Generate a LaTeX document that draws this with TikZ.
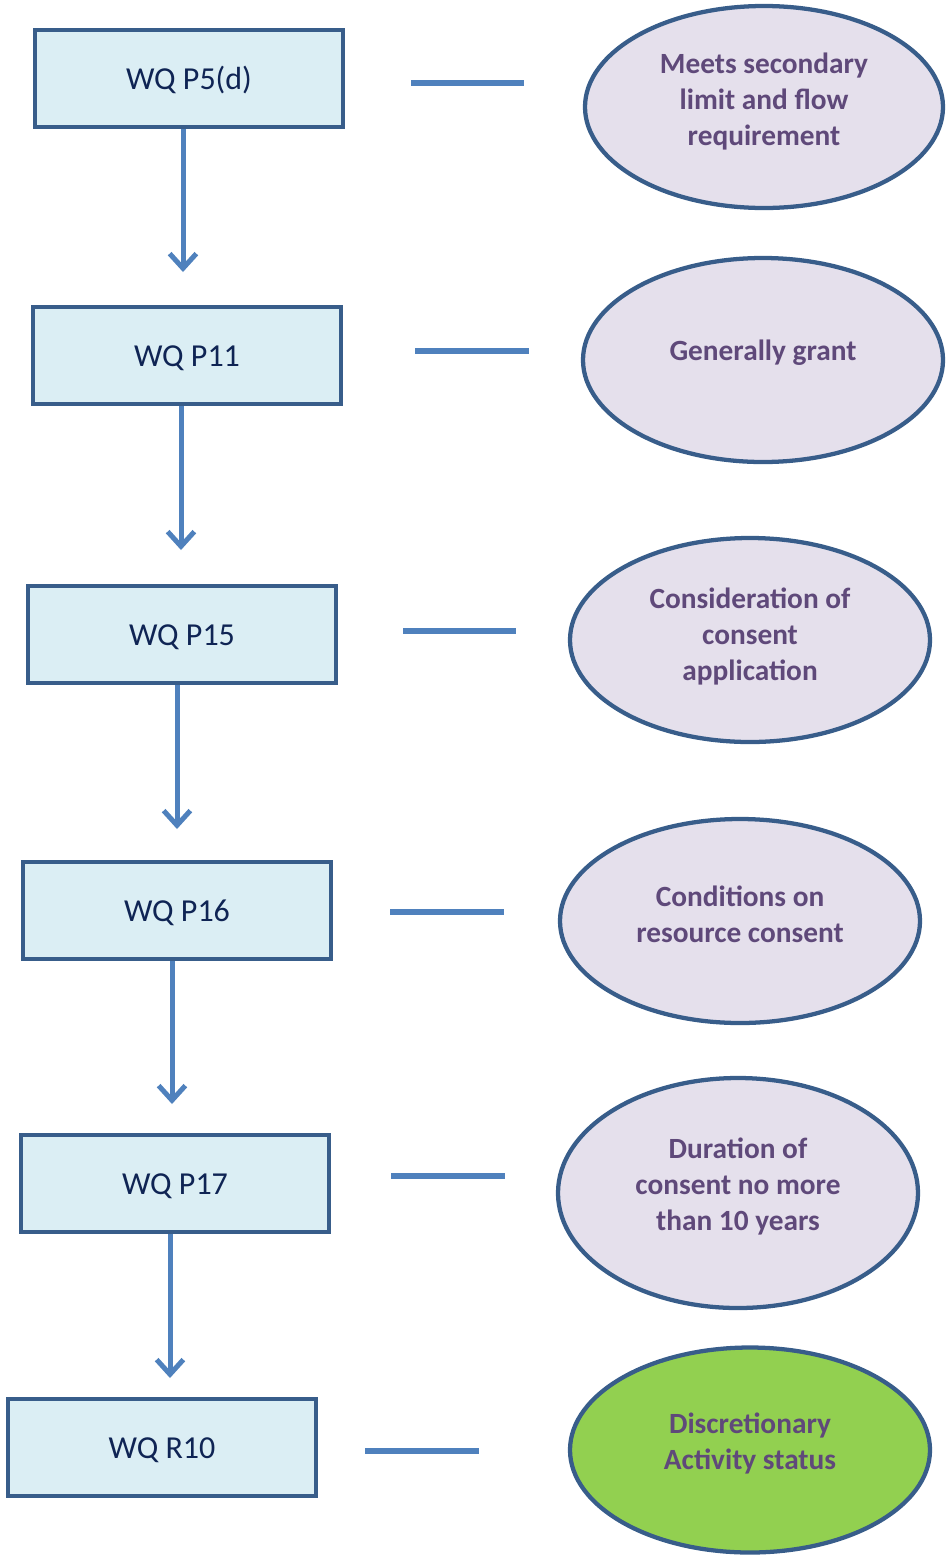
\documentclass[tikz,border=0pt]{standalone}
\usepackage{fontspec}
\setmainfont{Carlito}
\usetikzlibrary{arrows.meta,shapes.geometric}
\definecolor{boxfill}{HTML}{DBEEF4}
\definecolor{boxline}{HTML}{385D8A}
\definecolor{boxtext}{HTML}{0F2454}
\definecolor{flow}{HTML}{4F81BD}
\definecolor{ovalfill}{HTML}{E5E0EC}
\definecolor{ovaltext}{HTML}{5F497A}
\definecolor{ovalgreen}{HTML}{92D050}
\begin{document}
\begin{tikzpicture}[x=0.75pt,y=-0.75pt,
  policy/.style={draw=boxline,line width=3.2pt,fill=boxfill,rectangle,
    minimum width=231pt,minimum height=72.75pt,inner sep=0pt,
    text height=19pt,text depth=2pt,
    text=boxtext,font=\fontsize{24}{28}\selectfont},
  oval/.style={draw=boxline,line width=3.2pt,fill=ovalfill,ellipse,inner sep=0pt},
  ovaltxt/.style={align=center,text=ovaltext,inner sep=0pt,
    font=\fontsize{22}{27}\selectfont\bfseries},
  arr/.style={draw=flow,line width=3.75pt,
    -{Straight Barb[length=11pt,width=20pt,line width=3.75pt]}},
  linkbar/.style={draw=flow,line width=4.5pt}]
\useasboundingbox (0,0) rectangle (947,1557);

% policy boxes
\node[policy] (b1) at (189,78.5) {WQ P5(d)};
\node[policy] (b2) at (187,355.5) {WQ P11};
\node[policy] (b3) at (182,634.5) {WQ P15};
\node[policy] (b4) at (177,910.5) {WQ P16};
\node[policy] (b5) at (175,1183.5) {WQ P17};
\node[policy] (b6) at (162,1447.5) {WQ R10};

% arrow tips between boxes
\coordinate (a1) at (183,272);
\coordinate (a2) at (181,550);
\coordinate (a3) at (177,829);
\coordinate (a4) at (172,1104);
\coordinate (a5) at (170,1378);
\draw[arr] (b1.south -| a1) -- (a1);
\draw[arr] (b2.south -| a2) -- (a2);
\draw[arr] (b3.south -| a3) -- (a3);
\draw[arr] (b4.south -| a4) -- (a4);
\draw[arr] (b5.south -| a5) -- (a5);

% outcome ovals
\node[oval,minimum width=268.5pt,minimum height=151.5pt] (e1) at (764,107) {};
\node[oval,minimum width=270pt,minimum height=153pt] (e2) at (763,360) {};
\node[oval,minimum width=270pt,minimum height=153pt] (e3) at (750,640) {};
\node[oval,minimum width=270pt,minimum height=153pt] (e4) at (740,921) {};
\node[oval,minimum width=270pt,minimum height=172.5pt] (e5) at (738,1193) {};
\node[oval,fill=ovalgreen,minimum width=270pt,minimum height=153.75pt] (e6) at (750,1450) {};

\node[ovaltxt] (t1) at (764,102) {Meets secondary\\limit and flow\\requirement};
\node[ovaltxt] (t2) at (763,353) {Generally grant};
\node[ovaltxt] (t3) at (750,636) {Consideration of\\consent\\application};
\node[ovaltxt] (t4) at (740,914) {Conditions on\\resource consent};
\node[ovaltxt] (t5) at (738,1186) {Duration of\\consent no more\\than 10 years};
\node[ovaltxt] (t6) at (750,1443) {Discretionary\\Activity status};

% link bars between boxes and ovals
\coordinate (d1a) at (411,83);   \coordinate (d1b) at (524,83);
\coordinate (d2a) at (415,351);  \coordinate (d2b) at (529,351);
\coordinate (d3a) at (403,631);  \coordinate (d3b) at (516,631);
\coordinate (d4a) at (390,912);  \coordinate (d4b) at (504,912);
\coordinate (d5a) at (391,1176); \coordinate (d5b) at (505,1176);
\coordinate (d6a) at (365,1451); \coordinate (d6b) at (479,1451);
\draw[linkbar] (d1a) -- (d1b);
\draw[linkbar] (d2a) -- (d2b);
\draw[linkbar] (d3a) -- (d3b);
\draw[linkbar] (d4a) -- (d4b);
\draw[linkbar] (d5a) -- (d5b);
\draw[linkbar] (d6a) -- (d6b);
\end{tikzpicture}
\end{document}
